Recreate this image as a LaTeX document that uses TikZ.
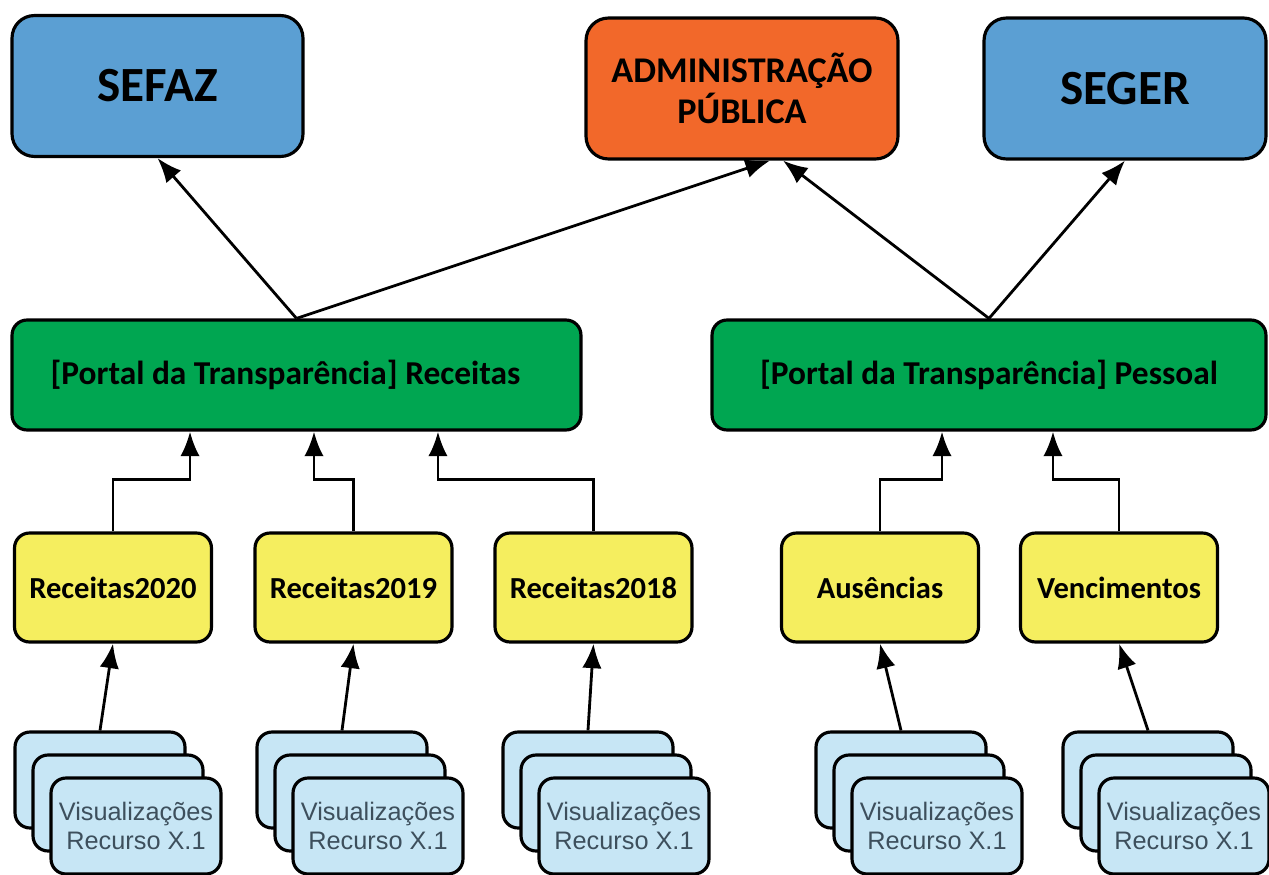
\documentclass[tikz,border=0pt]{standalone}
\usepackage{fontspec}
\setmainfont{Carlito}
\newfontfamily\cardfont{Liberation Sans}
\usetikzlibrary{arrows.meta}
\definecolor{sefazblue}{RGB}{91,159,211}
\definecolor{adminorange}{RGB}{242,104,42}
\definecolor{portalgreen}{RGB}{0,166,81}
\definecolor{setyellow}{RGB}{245,238,95}
\definecolor{cardblue}{RGB}{199,230,245}
\definecolor{cardtext}{RGB}{61,79,92}
\tikzset{
  box/.style={draw=black, line width=1.8pt, rounded corners=0.3cm, align=center, inner sep=0pt},
  topbox/.style={box, rounded corners=0.45cm, minimum height=2.82cm, font=\bfseries\fontsize{28}{32}\selectfont},
  portal/.style={box, fill=portalgreen, minimum height=2.2cm, font=\bfseries\fontsize{19}{22}\selectfont},
  dataset/.style={box, fill=setyellow, minimum width=3.94cm, minimum height=2.18cm, font=\bfseries\fontsize{17.4}{20}\selectfont},
  card/.style={box, fill=cardblue, minimum width=3.4cm, minimum height=1.92cm, text=cardtext, font=\cardfont\fontsize{14.4}{16}\selectfont},
  arr/.style={-{Latex[length=14pt,width=11pt]}, line width=1.6pt}
}
\begin{document}
\begin{tikzpicture}[x=0.02cm,y=-0.02cm]
  \useasboundingbox (0,0) rectangle (1269,875);

  % top level
  \node (sefaz) [topbox, fill=sefazblue, minimum width=5.82cm] at (157.5,86) {SEFAZ};
  \node (admin) [topbox, fill=adminorange, minimum width=6.24cm, font=\bfseries\fontsize{20.6}{23}\selectfont] at (742,88.5) {ADMINISTRAÇÃO\\PÚBLICA};
  \node (seger) [topbox, fill=sefazblue, minimum width=5.64cm] at (1125,88.5) {SEGER};

  % portals
  \node (rec) [portal, minimum width=11.38cm] at (296.5,375) {[Portal da Transparência] Receitas\hspace{0.44cm}};
  \node (pes) [portal, minimum width=11.08cm] at (989,375) {[Portal da Transparência] Pessoal};

  % data sets
  \node (r2020) [dataset] at (113,587.5) {Receitas2020};
  \node (r2019) [dataset] at (353.5,587.5) {Receitas2019};
  \node (r2018) [dataset] at (593.5,587.5) {Receitas2018};
  \node (aus) [dataset] at (880,587.5) {Ausências};
  \node (ven) [dataset] at (1119,587.5) {Vencimentos};

  % stacks of views
  \foreach \name/\x in {v2020/100, v2019/342, v2018/588, vaus/901, vven/1148} {
    \node (\name-back) [card] at (\x,780) {};
    \node (\name-mid) [card] at (\x+18,803) {};
    \node (\name-front) [card] at (\x+36,826) {Visualizações\\Recurso X.1};
  }

  \foreach \from/\to in {v2020-back/r2020, v2019-back/r2019, v2018-back/r2018, vaus-back/aus, vven-back/ven}
    \draw[arr] (\from.north) -- (\to.south);

  \foreach \from/\to/\dx in {r2020/rec/-2.13cm, r2019/rec/0.35cm, r2018/rec/2.83cm, aus/pes/-0.94cm, ven/pes/1.28cm}
    \draw[arr] (\from.north) -- ++(0,1.04cm) -| ([xshift=\dx]\to.south);

  \draw[arr] (rec.north) -- (sefaz.south);
  \draw[arr] (rec.north) -- ([xshift=0.56cm]admin.south);
  \draw[arr] (pes.north) -- ([xshift=0.82cm]admin.south);
  \draw[arr] (pes.north) -- (seger.south);
\end{tikzpicture}
\end{document}
